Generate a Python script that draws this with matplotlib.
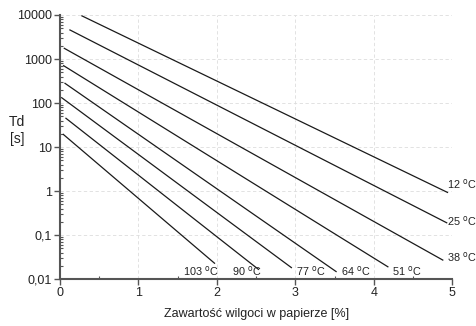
import matplotlib
matplotlib.use("Agg")
import matplotlib.pyplot as plt
from matplotlib.ticker import FixedLocator, FixedFormatter, LogLocator, MultipleLocator

plt.rcParams['font.family'] = ['Liberation Sans', 'DejaVu Sans']

# Drying-time lines: start and end points (moisture %, Td in s)
temps = ["12", "25", "38", "51", "64", "77", "90", "103"]
x_start = [0.28, 0.127, 0.055, 0.047, 0.064, 0.022, 0.076, 0.042]
td_start = [9550, 4570, 1750, 705, 280, 132, 45, 19.4]
x_end = [4.94, 4.93, 4.88, 4.18, 3.52, 2.95, 2.53, 1.97]
td_end = [0.93, 0.19, 0.027, 0.019, 0.0148, 0.0182, 0.0166, 0.0229]

# Label anchor points for each temperature
lab_x = [4.935, 4.94, 4.935, 4.23, 3.58, 3.015, 2.187, 1.563]
lab_y = [1.44, 0.208, 0.0321, 0.0152, 0.0152, 0.0152, 0.0152, 0.0152]

x_ticks = [0, 1, 2, 3, 4, 5]
x_ticklabels = ["0", "1", "2", "3", "4", "5"]
y_ticks = [0.01, 0.1, 1, 10, 100, 1000, 10000]
y_ticklabels = ["0,01", "0,1", "1", "10", "100", "1000", "10000"]

fig = plt.figure(figsize=(4.76, 3.26), dpi=100)
ax = fig.add_axes([0.126, 0.144, 0.824, 0.810])

for xs, ys, xe, ye in zip(x_start, td_start, x_end, td_end):
    ax.plot([xs, xe], [ys, ye], color="#1a1a1a", lw=0.9)

for t, lx, ly in zip(temps, lab_x, lab_y):
    ax.text(lx, ly, t + r" $^{\mathrm{o}}$C", fontsize=7.8, ha="left", va="center",
            color="#222222")

ax.set_yscale("log")
ax.set_xlim(0, 5)
ax.set_ylim(0.01, 10000)

ax.xaxis.set_major_locator(FixedLocator(x_ticks))
ax.xaxis.set_major_formatter(FixedFormatter(x_ticklabels))
ax.xaxis.set_minor_locator(MultipleLocator(0.5))
ax.yaxis.set_major_locator(FixedLocator(y_ticks))
ax.yaxis.set_major_formatter(FixedFormatter(y_ticklabels))
ax.yaxis.set_minor_locator(LogLocator(base=10, subs=range(2, 10), numticks=20))
ax.yaxis.set_minor_formatter(FixedFormatter([]))

spine_col = "#555555"
for s in ["top", "right"]:
    ax.spines[s].set_visible(False)
for s in ["left", "bottom"]:
    ax.spines[s].set_color(spine_col)
    ax.spines[s].set_linewidth(1.5)

ax.tick_params(which="major", direction="out", length=4, width=1, color=spine_col,
               labelsize=9, labelcolor="#222222", pad=2)
ax.tick_params(which="minor", direction="in", length=2.5, width=0.8, color=spine_col)

ax.grid(True, which="major", color="#dddddd", ls=(0, (4, 3)), lw=0.6)
ax.set_axisbelow(True)

ax.set_xlabel("Zawartość wilgoci w papierze [%]", fontsize=9, color="#222222", labelpad=6)
fig.text(0.036, 0.60, "Td\n[s]", fontsize=10, ha="center", va="center",
         color="#222222", linespacing=1.3)

fig.savefig("out.png", dpi=100)
